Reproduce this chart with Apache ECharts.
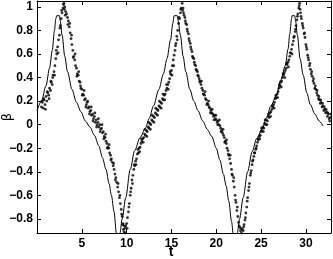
<!DOCTYPE html>
<html><head><meta charset="utf-8">
<script src="https://cdn.jsdelivr.net/npm/echarts@6/dist/echarts.min.js"></script>
<style>html,body{margin:0;padding:0;background:#fff}#c{width:333px;height:259px}</style>
</head><body><div id="c"></div>
<script>
// x tick labels and y tick labels
const xTicks = [5, 10, 15, 20, 25, 30];
const yTicks = [-0.8, -0.6, -0.4, -0.2, 0, 0.2, 0.4, 0.6, 0.8, 1];

// solid model curve [t, beta]
const modelCurve = [
[0,0.12],[0.5,0.2],[1.0,0.33],[1.4,0.48],[1.7,0.63],[1.95,0.8],[2.1,0.9],[2.2,0.925],[2.5,0.925],[2.6,0.88],[2.8,0.76],[3.1,0.58],[3.4,0.45],[3.9,0.3],[4.4,0.19],[4.9,0.11],[5.4,0.03],[5.9,-0.02],[6.4,-0.09],[6.9,-0.18],[7.3,-0.28],[7.7,-0.38],[8.04,-0.5],[8.3,-0.6],[8.6,-0.74],[8.85,-0.92],[9.05,-1.0],[9.26,-0.92],[9.5,-0.8],[9.9,-0.62],[10.4,-0.38],[10.9,-0.22],[11.5,-0.11],[12.1,-0.03],[12.5,0.05],[13.0,0.16],[13.6,0.3],[14.1,0.43],[14.5,0.56],[14.9,0.72],[15.15,0.86],[15.3,0.925],[15.65,0.925],[15.75,0.88],[16.0,0.76],[16.3,0.58],[16.6,0.45],[17.05,0.3],[17.5,0.2],[17.95,0.12],[18.5,0.03],[19.0,-0.04],[19.5,-0.1],[20.0,-0.2],[20.4,-0.3],[20.8,-0.42],[21.1,-0.52],[21.4,-0.65],[21.7,-0.82],[21.9,-0.93],[22.1,-1.0],[22.35,-0.92],[22.6,-0.8],[23.0,-0.62],[23.5,-0.4],[24.0,-0.23],[24.5,-0.12],[25.1,-0.04],[25.6,0.06],[26.1,0.16],[26.7,0.25],[27.2,0.38],[27.7,0.5],[28.0,0.64],[28.2,0.77],[28.4,0.9],[28.45,0.925],[28.75,0.925],[28.85,0.88],[29.05,0.76],[29.35,0.56],[29.7,0.42],[30.1,0.27],[30.5,0.17],[31.0,0.09],[31.5,0.03],[31.9,-0.01]
];

// measured points [t, beta]
const measured = [
[0.5,0.15],[0.6,0.19],[0.7,0.14],[0.8,0.21],[0.9,0.17],[1.0,0.24],[1.1,0.2],[1.2,0.27],[1.3,0.25],[1.4,0.31],[1.5,0.29],[1.6,0.36],[1.7,0.34],[1.8,0.42],[1.9,0.45],[2.0,0.5],[2.1,0.56],[2.2,0.6],[2.3,0.66],[2.4,0.72],[2.5,0.76],[2.6,0.84],[2.7,0.9],[2.8,0.95],[2.9,0.99],[3.0,1.03],[3.05,0.98],
[3.1,1.0],[3.2,0.96],[3.3,0.94],[3.4,0.91],[3.5,0.88],[3.6,0.83],[3.7,0.78],[3.8,0.73],[3.9,0.68],[4.0,0.63],[4.1,0.58],[4.2,0.55],[4.3,0.5],[4.4,0.48],[4.5,0.43],[4.6,0.42],[4.7,0.37],[4.8,0.36],[4.9,0.31],[5.0,0.3],[5.1,0.26],[5.2,0.25],[5.3,0.21],[5.4,0.22],[5.5,0.17],[5.6,0.19],[5.7,0.14],[5.8,0.15],[5.9,0.11],[6.0,0.12],[6.1,0.08],[6.2,0.09],[6.3,0.05],[6.4,0.07],[6.5,0.02],[6.6,0.04],[6.7,0.0],[6.8,0.02],[6.9,-0.02],[7.0,0.0],[7.1,-0.04],[7.2,-0.03],[7.3,-0.07],[7.4,-0.06],[7.5,-0.1],[7.6,-0.11],[7.7,-0.14],[7.8,-0.16],[7.9,-0.19],[8.0,-0.2],[8.1,-0.24],[8.2,-0.26],[8.3,-0.29],[8.4,-0.32],[8.5,-0.35],[8.6,-0.38],[8.7,-0.42],[8.8,-0.45],[8.9,-0.49],[9.0,-0.53],[9.1,-0.57],[9.2,-0.62],[9.3,-0.67],[9.4,-0.72],[9.5,-0.78],[9.6,-0.84],[9.65,-0.89],[9.7,-0.91],[9.8,-0.88],
[9.85,-0.92],[9.9,-0.86],[10.0,-0.84],[10.1,-0.79],[10.2,-0.74],[10.3,-0.67],[10.4,-0.6],[10.5,-0.54],[10.6,-0.47],[10.7,-0.43],[10.8,-0.38],[10.9,-0.35],[11.0,-0.31],[11.1,-0.29],[11.2,-0.25],[11.3,-0.24],[11.4,-0.2],[11.5,-0.19],[11.6,-0.16],[11.7,-0.14],[11.8,-0.12],[11.9,-0.11],[12.0,-0.08],[12.1,-0.09],[12.2,-0.05],[12.3,-0.06],[12.4,-0.02],[12.5,-0.03],[12.6,0.01],[12.7,0.0],[12.8,0.04],[12.9,0.03],[13.0,0.07],[13.1,0.06],[13.2,0.1],[13.3,0.09],[13.4,0.13],[13.5,0.12],[13.6,0.16],[13.7,0.15],[13.8,0.19],[13.9,0.18],[14.0,0.22],[14.1,0.21],[14.2,0.25],[14.3,0.26],[14.4,0.29],[14.5,0.31],[14.6,0.34],[14.7,0.36],[14.8,0.39],[14.9,0.43],[15.0,0.46],[15.1,0.5],[15.2,0.55],[15.3,0.59],[15.4,0.63],[15.5,0.69],[15.6,0.75],[15.7,0.8],[15.8,0.86],[15.9,0.9],[16.0,0.95],[16.1,0.99],[16.2,1.03],[16.25,0.97],
[16.3,0.99],[16.4,0.93],[16.5,0.91],[16.6,0.86],[16.7,0.85],[16.8,0.79],[16.9,0.77],[17.0,0.71],[17.1,0.69],[17.2,0.64],[17.3,0.62],[17.4,0.57],[17.5,0.56],[17.6,0.51],[17.7,0.5],[17.8,0.46],[17.9,0.45],[18.0,0.41],[18.1,0.39],[18.2,0.36],[18.3,0.34],[18.4,0.31],[18.5,0.29],[18.6,0.26],[18.7,0.25],[18.8,0.22],[18.9,0.21],[19.0,0.18],[19.1,0.17],[19.2,0.15],[19.3,0.14],[19.4,0.12],[19.5,0.1],[19.6,0.09],[19.7,0.07],[19.8,0.08],[19.9,0.05],[20.0,0.04],[20.1,0.02],[20.2,0.03],[20.3,0.0],[20.4,-0.01],[20.5,-0.03],[20.6,-0.05],[20.7,-0.07],[20.8,-0.09],[20.9,-0.11],[21.0,-0.14],[21.1,-0.16],[21.2,-0.2],[21.3,-0.22],[21.4,-0.26],[21.5,-0.29],[21.6,-0.33],[21.7,-0.38],[21.8,-0.43],[21.9,-0.48],[22.0,-0.53],[22.1,-0.6],[22.2,-0.66],[22.3,-0.73],[22.4,-0.78],[22.5,-0.83],[22.6,-0.87],[22.7,-0.9],[22.8,-0.92],[22.9,-0.89],
[23.0,-0.9],[23.1,-0.85],[23.2,-0.81],[23.3,-0.75],[23.4,-0.7],[23.5,-0.62],[23.6,-0.56],[23.7,-0.5],[23.8,-0.43],[23.9,-0.39],[24.0,-0.34],[24.1,-0.3],[24.2,-0.27],[24.3,-0.24],[24.4,-0.21],[24.5,-0.18],[24.6,-0.15],[24.7,-0.13],[24.8,-0.1],[24.9,-0.09],[25.0,-0.06],[25.1,-0.05],[25.2,-0.02],[25.3,-0.03],[25.4,0.01],[25.5,0.0],[25.6,0.04],[25.7,0.03],[25.8,0.07],[25.9,0.06],[26.0,0.1],[26.1,0.11],[26.2,0.13],[26.3,0.15],[26.4,0.17],[26.5,0.19],[26.6,0.22],[26.7,0.23],[26.8,0.26],[26.9,0.28],[27.0,0.31],[27.1,0.33],[27.2,0.36],[27.3,0.37],[27.4,0.4],[27.5,0.42],[27.6,0.44],[27.7,0.46],[27.8,0.48],[27.9,0.51],[28.0,0.53],[28.1,0.55],[28.2,0.58],[28.3,0.61],[28.4,0.64],[28.5,0.68],[28.6,0.71],[28.7,0.75],[28.8,0.79],[28.9,0.84],[29.0,0.89],[29.1,0.94],[29.2,0.99],[29.3,1.03],[29.35,0.98],
[29.4,0.95],[29.5,0.9],[29.6,0.86],[29.7,0.82],[29.8,0.77],[29.9,0.74],[30.0,0.68],[30.1,0.64],[30.2,0.59],[30.3,0.55],[30.4,0.5],[30.5,0.47],[30.6,0.43],[30.7,0.41],[30.8,0.37],[30.9,0.35],[31.0,0.31],[31.1,0.3],[31.2,0.27],[31.3,0.25],[31.4,0.22],[31.5,0.21],[31.6,0.18],[31.7,0.19],[31.8,0.15],[31.9,0.16],[32.0,0.12],[32.1,0.13],[32.2,0.1],[32.3,0.11],[32.4,0.07],[32.5,0.09],[32.6,0.05],[32.7,0.06],
[0.55,0.2],[0.75,0.22],[0.95,0.13],[1.15,0.28],[1.35,0.22],[1.55,0.37],[1.75,0.4],[1.95,0.42],[2.15,0.63],[2.35,0.61],[2.55,0.82],[2.75,0.97],[2.95,1.02],
[3.15,0.93],[3.45,0.85],[3.65,0.86],[3.85,0.76],[4.05,0.57],[4.25,0.6],[4.45,0.41],[4.65,0.45],[4.85,0.33],[5.05,0.25],[5.25,0.29],[5.45,0.15],[5.65,0.2],[5.85,0.09],[6.05,0.15],[6.25,0.03],[6.45,0.1],[6.65,-0.02],[6.85,0.05],[7.05,-0.06],[7.25,0.0],[7.45,-0.12],[7.65,-0.08],[7.85,-0.2],[8.05,-0.17],[8.25,-0.3],[8.55,-0.33],[8.75,-0.47],[9.05,-0.5],[9.25,-0.6],[9.45,-0.76],[9.55,-0.85],[9.75,-0.86],
[10.05,-0.88],[10.25,-0.7],[10.45,-0.57],[10.65,-0.5],[10.85,-0.34],[11.05,-0.34],[11.25,-0.21],[11.45,-0.23],[11.65,-0.12],[11.85,-0.15],[12.05,-0.04],[12.25,-0.1],[12.45,0.02],[12.65,-0.04],[12.85,0.08],[13.05,0.02],[13.25,0.14],[13.45,0.08],[13.65,0.2],[13.85,0.14],[14.05,0.26],[14.25,0.21],[14.45,0.34],[14.65,0.3],[14.85,0.45],[15.05,0.42],[15.25,0.5],[15.45,0.67],[15.65,0.72],[15.85,0.91],[16.05,0.98],
[16.35,0.95],[16.55,0.88],[16.75,0.81],[16.95,0.73],[17.15,0.66],[17.35,0.58],[17.55,0.53],[17.75,0.47],[17.95,0.42],[18.15,0.37],[18.35,0.37],[18.55,0.26],[18.75,0.28],[18.95,0.17],[19.15,0.2],[19.35,0.1],[19.55,0.13],[19.75,0.04],[19.95,0.08],[20.15,0.0],[20.35,0.04],[20.55,-0.06],[20.75,-0.04],[20.95,-0.15],[21.15,-0.13],[21.35,-0.25],[21.55,-0.26],[21.75,-0.42],[21.95,-0.45],[22.15,-0.64],[22.35,-0.7],[22.55,-0.86],[22.75,-0.88],
[23.05,-0.87],[23.25,-0.79],[23.45,-0.65],[23.65,-0.53],[23.85,-0.41],[24.05,-0.31],[24.25,-0.24],[24.45,-0.2],[24.65,-0.12],[24.85,-0.12],[25.05,-0.03],[25.25,-0.06],[25.45,0.04],[25.65,0.0],[25.85,0.09],[26.05,0.07],[26.25,0.16],[26.45,0.14],[26.65,0.25],[26.85,0.23],[27.05,0.34],[27.25,0.32],[27.45,0.43],[27.65,0.4],[27.85,0.52],[28.05,0.49],[28.25,0.61],[28.45,0.6],[28.65,0.74],[28.85,0.81],[29.05,0.92],[29.25,1.01],
[29.45,0.92],[29.65,0.84],[29.85,0.78],[30.05,0.66],[30.25,0.57],[30.45,0.52],[30.65,0.45],[30.85,0.39],[31.05,0.33],[31.25,0.29],[31.45,0.24],[31.65,0.21],[31.85,0.18],[32.05,0.15],[32.25,0.13],[32.45,0.1],[32.65,0.03],[32.75,0.09]
];

const FONT = "'Liberation Sans', Arial, sans-serif";
const chart = echarts.init(document.getElementById('c'), null, {renderer: 'canvas'});
const lineSt = {color: '#000', width: 1};
function fmtY(v) { const s = String(+(+v).toFixed(1)); return s.replace('-', '\u2212'); }
chart.setOption({
  animation: false,
  backgroundColor: '#fff',
  grid: {left: 37, right: 2, top: 1, bottom: 26, containLabel: false, outerBoundsMode: 'none', show: false},
  xAxis: [
    {type: 'value', min: 0, max: 32.8, position: 'bottom',
     axisLine: {show: true, onZero: false, lineStyle: lineSt},
     axisTick: {show: true, inside: true, length: 4, customValues: xTicks, lineStyle: lineSt},
     axisLabel: {show: true, customValues: xTicks, color: '#000', fontFamily: FONT, fontWeight: 'bold', fontSize: 12, margin: 5},
     splitLine: {show: false}},
    {type: 'value', min: 0, max: 32.8, position: 'top',
     axisLine: {show: true, onZero: false, lineStyle: lineSt},
     axisTick: {show: true, inside: true, length: 4, customValues: xTicks, lineStyle: lineSt},
     axisLabel: {show: false}, splitLine: {show: false}}
  ],
  yAxis: [
    {type: 'value', min: -0.92, max: 1.05, position: 'left',
     axisLine: {show: true, onZero: false, lineStyle: lineSt},
     axisTick: {show: true, inside: true, length: 4, customValues: yTicks, lineStyle: lineSt},
     axisLabel: {show: true, customValues: yTicks, formatter: fmtY, color: '#000', fontFamily: FONT, fontWeight: 'bold', fontSize: 12, margin: 4},
     splitLine: {show: false}},
    {type: 'value', min: -0.92, max: 1.05, position: 'right',
     axisLine: {show: true, onZero: false, lineStyle: lineSt},
     axisTick: {show: true, inside: true, length: 4, customValues: yTicks, lineStyle: lineSt},
     axisLabel: {show: false}, splitLine: {show: false}}
  ],
  series: [
    {type: 'line', data: modelCurve, xAxisIndex: 0, yAxisIndex: 0, showSymbol: false, symbol: 'none',
     smooth: 0.3, smoothMonotone: 'x', clip: true, lineStyle: {color: '#000', width: 1}, silent: true},
    {type: 'scatter', data: measured, xAxisIndex: 0, yAxisIndex: 0, symbol: 'circle', symbolSize: 2.8,
     clip: true, itemStyle: {color: '#000'}, silent: true}
  ],
  graphic: [
    {type: 'text', x: 171, y: 252, style: {text: 't', fontFamily: FONT, fontWeight: 'bold', fontSize: 14, fill: '#000', align: 'center', verticalAlign: 'middle'}},
    {type: 'text', x: 8, y: 117, rotation: Math.PI / 2, style: {text: '\u03B2', fontFamily: "'DejaVu Sans', sans-serif", fontSize: 13, fill: '#000', align: 'center', verticalAlign: 'middle'}}
  ]
});
</script></body></html>
